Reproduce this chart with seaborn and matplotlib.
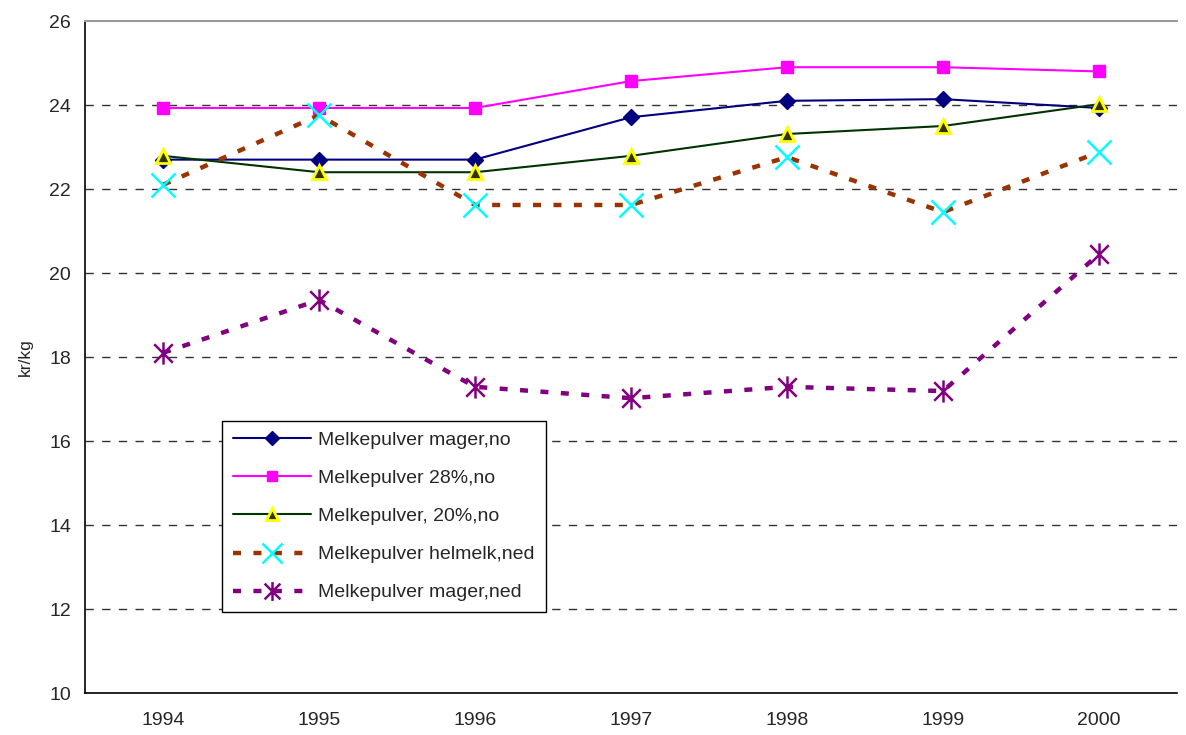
import matplotlib
matplotlib.use("Agg")
import matplotlib.pyplot as plt
import seaborn as sns
import numpy as np
import pandas as pd
from matplotlib.path import Path
from matplotlib.lines import Line2D

years = ["1994", "1995", "1996", "1997", "1998", "1999", "2000"]
mager_no = [22.7, 22.7, 22.7, 23.71, 24.1, 24.14, 23.93]
p28_no = [23.93, 23.93, 23.93, 24.57, 24.9, 24.9, 24.8]
p20_no = [22.79, 22.4, 22.4, 22.79, 23.31, 23.5, 24.02]
helmelk_ned = [22.1, 23.76, 21.62, 21.62, 22.76, 21.45, 22.88]
mager_ned = [18.1, 19.36, 17.29, 17.02, 17.29, 17.19, 20.45]
names = ["Melkepulver mager,no", "Melkepulver 28%,no", "Melkepulver, 20%,no",
         "Melkepulver helmelk,ned", "Melkepulver mager,ned"]

sns.set_style("white")
plt.rcParams["font.family"] = ["Liberation Sans", "DejaVu Sans"]

fig = plt.figure(figsize=(11.86, 7.35), dpi=100)
ax = fig.add_axes([0.0717, 0.0571, 0.9207, 0.9143])

pos = np.arange(len(years))
ast = Path([(-1, -1), (1, 1), (-1, 1), (1, -1), (0, -1.2), (0, 1.2)],
           [Path.MOVETO, Path.LINETO, Path.MOVETO, Path.LINETO, Path.MOVETO, Path.LINETO])

styles = [
    dict(color="#000080", lw=1.5, marker="D", ms=8, mfc="#000080", mec="#000080", mew=1, ls="-"),
    dict(color="#FF00FF", lw=1.5, marker="s", ms=9, mfc="#FF00FF", mec="#FF00FF", mew=1, ls="-"),
    dict(color="#003300", lw=1.5, marker="^", ms=10, mfc="#333300", mec="#FFFF00", mew=2, ls="-"),
    dict(color="#993300", lw=3.2, marker="x", ms=17, mfc="#00FFFF", mec="#00FFFF", mew=1.8, ls=(0, (1.8, 2.8))),
    dict(color="#800080", lw=3.2, marker=ast, ms=16, mfc="none", mec="#800080", mew=1.8, ls=(0, (1.8, 2.8))),
]
series = [mager_no, p28_no, p20_no, helmelk_ned, mager_ned]

handles = []
for name, vals, st in zip(names, series, styles):
    df = pd.DataFrame({"x": pos, "y": vals})
    sns.lineplot(data=df, x="x", y="y", ax=ax, color=st["color"], lw=st["lw"],
                 linestyle=st["ls"], marker=st["marker"], markersize=st["ms"],
                 markerfacecolor=st["mfc"], markeredgecolor=st["mec"],
                 markeredgewidth=st["mew"], zorder=3)
    handles.append(Line2D([], [], color=st["color"], lw=st["lw"], linestyle=st["ls"],
                          marker=st["marker"], markersize=st["ms"] * 0.85,
                          markerfacecolor=st["mfc"], markeredgecolor=st["mec"],
                          markeredgewidth=st["mew"], label=name))

ax.set_xlim(-0.5, 6.5)
ax.set_ylim(10, 26)
ax.set_yticks(np.arange(10, 27, 2))
ax.set_xticks(pos)
ax.set_xticklabels(years)
ax.set_xticks(np.arange(-0.5, 7, 1), minor=True)
ax.tick_params(axis="x", which="major", length=0, pad=14, labelsize=14)
ax.tick_params(axis="x", which="minor", length=6, direction="out", width=1, color="black")
ax.tick_params(axis="y", length=6, direction="out", width=1, color="black", labelsize=14, pad=4)
ax.set_xlabel("")
ax.set_ylabel("kr/kg", fontsize=12.5, labelpad=12)

for yv in np.arange(12, 26, 2):
    ax.axhline(yv, color="#333333", lw=1, ls=(0, (6, 6)), zorder=1)

for s in ["left", "bottom"]:
    ax.spines[s].set_color("black")
    ax.spines[s].set_linewidth(1.2)
ax.spines["right"].set_visible(False)
ax.spines["top"].set_color("#999999")
ax.spines["top"].set_linewidth(1.5)

leg = ax.legend(handles=handles, loc="lower left", bbox_to_anchor=(0.1255, 0.1205),
                borderaxespad=0, fontsize=14, frameon=True, fancybox=False,
                handlelength=4.0, labelspacing=1.05, handletextpad=0.4, borderpad=0.55)
leg.get_frame().set_edgecolor("black")
leg.get_frame().set_linewidth(1)
leg.get_frame().set_alpha(1)

fig.savefig("out.png", dpi=100)
